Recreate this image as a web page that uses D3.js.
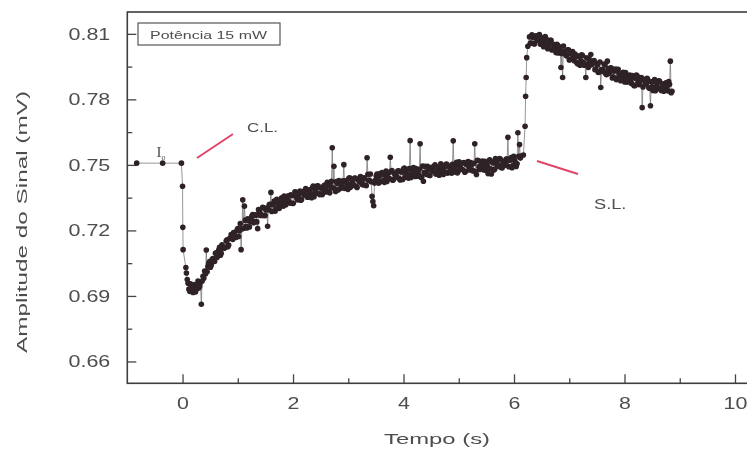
<!DOCTYPE html>
<html>
<head>
<meta charset="utf-8">
<script src="https://cdn.jsdelivr.net/npm/d3@7"></script>
<style>
  body { margin: 0; background: #fff; }
  text { font-family: "Liberation Sans", Arial, sans-serif; fill: #4d4d4d; }
</style>
</head>
<body>
<svg id="chart" width="747" height="452"></svg>
<script>
// Dark level before the light is switched on (I0)
const baseTime = [-0.83, -0.36, -0.02];
const baseAmp  = [0.7508, 0.7508, 0.7508];

// Fast drop right after the light is switched on (C.L.)
const dropTime = [0.00, 0.005, 0.01, 0.06, 0.07, 0.085];
const dropAmp  = [0.7402, 0.7214, 0.7112, 0.7030, 0.7005, 0.6975];

// Recovery under illumination, one sample every 0.015 s from 0.10 s
const recoveryStart = 0.10, recoveryStep = 0.015;
const recoveryAmp = [
  0.6958, 0.6931, 0.6921, 0.6955, 0.6947, 0.6925, 0.6916, 0.6940, 0.6952, 0.6918, 0.6929, 0.6950, 0.6968, 0.6936, 0.6944, 0.6962, 0.6862, 0.6968, 0.6990, 0.6981,
  0.7014, 0.7001, 0.7110, 0.7011, 0.7034, 0.7049, 0.7058, 0.7031, 0.7042, 0.7067, 0.7071, 0.7069, 0.7058, 0.7095, 0.7098, 0.7076, 0.7092, 0.7110, 0.7123, 0.7086,
  0.7095, 0.7134, 0.7121, 0.7118, 0.7119, 0.7123, 0.7151, 0.7157, 0.7125, 0.7133, 0.7162, 0.7166, 0.7181, 0.7166, 0.7159, 0.7190, 0.7185, 0.7168, 0.7169, 0.7201,
  0.7209, 0.7172, 0.7198, 0.7231, 0.7112, 0.7207, 0.7340, 0.7209, 0.7311, 0.7247, 0.7219, 0.7211, 0.7253, 0.7247, 0.7216, 0.7241, 0.7256, 0.7266, 0.7273, 0.7235,
  0.7241, 0.7272, 0.7269, 0.7239, 0.7208, 0.7295, 0.7287, 0.7269, 0.7273, 0.7268, 0.7306, 0.7304, 0.7268, 0.7268, 0.7294, 0.7302, 0.7219, 0.7295, 0.7318, 0.7319,
  0.7374, 0.7287, 0.7318, 0.7322, 0.7334, 0.7288, 0.7299, 0.7342, 0.7326, 0.7315, 0.7300, 0.7313, 0.7342, 0.7349, 0.7326, 0.7311, 0.7357, 0.7343, 0.7318, 0.7335,
  0.7342, 0.7358, 0.7332, 0.7325, 0.7363, 0.7359, 0.7323, 0.7324, 0.7361, 0.7377, 0.7375, 0.7349, 0.7340, 0.7345, 0.7365, 0.7380, 0.7338, 0.7341, 0.7378, 0.7374,
  0.7362, 0.7364, 0.7392, 0.7386, 0.7352, 0.7353, 0.7376, 0.7386, 0.7365, 0.7350, 0.7395, 0.7403, 0.7354, 0.7374, 0.7391, 0.7370, 0.7404, 0.7403, 0.7368, 0.7364,
  0.7393, 0.7396, 0.7364, 0.7385, 0.7404, 0.7408, 0.7389, 0.7376, 0.7420, 0.7409, 0.7379, 0.7372, 0.7402, 0.7425, 0.7578, 0.7395, 0.7494, 0.7391, 0.7378, 0.7424,
  0.7415, 0.7385, 0.7428, 0.7416, 0.7392, 0.7406, 0.7416, 0.7427, 0.7501, 0.7392, 0.7427, 0.7425, 0.7409, 0.7388, 0.7439, 0.7441, 0.7398, 0.7411, 0.7421, 0.7407,
  0.7409, 0.7440, 0.7439, 0.7401, 0.7397, 0.7432, 0.7434, 0.7422, 0.7447, 0.7443, 0.7411, 0.7409, 0.7435, 0.7441, 0.7407, 0.7405, 0.7533, 0.7457, 0.7429, 0.7428,
  0.7458, 0.7423, 0.7356, 0.7332, 0.7313, 0.7417, 0.7429, 0.7449, 0.7458, 0.7438, 0.7416, 0.7459, 0.7452, 0.7424, 0.7465, 0.7456, 0.7429, 0.7420, 0.7453, 0.7472,
  0.7424, 0.7442, 0.7463, 0.7437, 0.7535, 0.7470, 0.7474, 0.7430, 0.7433, 0.7461, 0.7456, 0.7451, 0.7444, 0.7472, 0.7473, 0.7437, 0.7431, 0.7469, 0.7468, 0.7433,
  0.7481, 0.7485, 0.7444, 0.7455, 0.7468, 0.7450, 0.7439, 0.7483, 0.7611, 0.7442, 0.7459, 0.7473, 0.7488, 0.7462, 0.7447, 0.7483, 0.7469, 0.7448, 0.7457, 0.7480,
  0.7597, 0.7443, 0.7444, 0.7495, 0.7425, 0.7465, 0.7493, 0.7460, 0.7456, 0.7493, 0.7480, 0.7453, 0.7451, 0.7483, 0.7489, 0.7472, 0.7471, 0.7493, 0.7500, 0.7458,
  0.7459, 0.7490, 0.7481, 0.7453, 0.7469, 0.7505, 0.7498, 0.7475, 0.7456, 0.7469, 0.7491, 0.7502, 0.7504, 0.7462, 0.7467, 0.7493, 0.7491, 0.7482, 0.7462, 0.7503,
  0.7610, 0.7468, 0.7483, 0.7500, 0.7512, 0.7463, 0.7471, 0.7514, 0.7492, 0.7484, 0.7480, 0.7479, 0.7509, 0.7511, 0.7466, 0.7471, 0.7502, 0.7502, 0.7515, 0.7490,
  0.7477, 0.7511, 0.7501, 0.7476, 0.7472, 0.7507, 0.7597, 0.7470, 0.7456, 0.7521, 0.7520, 0.7491, 0.7479, 0.7485, 0.7500, 0.7518, 0.7488, 0.7477, 0.7516, 0.7508,
  0.7474, 0.7497, 0.7460, 0.7518, 0.7523, 0.7482, 0.7458, 0.7514, 0.7509, 0.7477, 0.7480, 0.7529, 0.7519, 0.7498, 0.7500, 0.7493, 0.7529, 0.7526, 0.7488, 0.7486,
  0.7510, 0.7517, 0.7498, 0.7506, 0.7527, 0.7527, 0.7626, 0.7492, 0.7521, 0.7524, 0.7534, 0.7487, 0.7497, 0.7539, 0.7521, 0.7509, 0.7493, 0.7505, 0.7647, 0.7539,
  0.7593, 0.7531, 0.7541
];

// Jump when the light is switched off (S.L.)
const riseTime = [6.17, 6.20, 6.21, 6.22, 6.23, 6.25];
const riseAmp  = [0.7545, 0.7677, 0.7814, 0.7900, 0.7991, 0.8043];

// Relaxation in the dark, one sample every 0.015 s from 6.28 s
const decayStart = 6.28, decayStep = 0.015;
const decayAmp = [
  0.8086, 0.8057, 0.8058, 0.8096, 0.8084, 0.8056, 0.8054, 0.8086, 0.8091, 0.8073, 0.8071, 0.8091, 0.8097, 0.8053, 0.8053, 0.8082, 0.8071, 0.8041, 0.8055, 0.8088,
  0.8079, 0.8053, 0.8032, 0.8043, 0.8063, 0.8071, 0.8071, 0.8026, 0.8029, 0.8052, 0.8048, 0.8036, 0.8014, 0.8052, 0.8048, 0.8012, 0.8025, 0.8039, 0.7946, 0.8010,
  0.7900, 0.8044, 0.8020, 0.8009, 0.8003, 0.7999, 0.8027, 0.8027, 0.7980, 0.7982, 0.8011, 0.8008, 0.8019, 0.7992, 0.7977, 0.8008, 0.7996, 0.7969, 0.7963, 0.7997,
  0.7998, 0.7956, 0.7976, 0.8004, 0.8001, 0.7970, 0.7956, 0.7961, 0.7900, 0.7990, 0.7958, 0.7946, 0.7983, 0.7973, 0.8005, 0.7958, 0.7969, 0.7975, 0.7978, 0.7936,
  0.7937, 0.7964, 0.7957, 0.7923, 0.7924, 0.7971, 0.7854, 0.7937, 0.7937, 0.7928, 0.7962, 0.7957, 0.7917, 0.7913, 0.7975, 0.7940, 0.7919, 0.7925, 0.7944, 0.7942,
  0.7898, 0.7903, 0.7930, 0.7931, 0.7939, 0.7890, 0.7898, 0.7938, 0.7918, 0.7904, 0.7885, 0.7895, 0.7920, 0.7924, 0.7898, 0.7880, 0.7923, 0.7907, 0.7879, 0.7893,
  0.7898, 0.7911, 0.7883, 0.7873, 0.7909, 0.7902, 0.7864, 0.7862, 0.7897, 0.7911, 0.7907, 0.7878, 0.7867, 0.7870, 0.7888, 0.7900, 0.7762, 0.7857, 0.7892, 0.7885,
  0.7871, 0.7871, 0.7897, 0.7889, 0.7853, 0.7851, 0.7771, 0.7880, 0.7857, 0.7841, 0.7884, 0.7891, 0.7840, 0.7859, 0.7874, 0.7852, 0.7885, 0.7883, 0.7846, 0.7841,
  0.7868, 0.7870, 0.7837, 0.7857, 0.7874, 0.7876, 0.7854, 0.7839, 0.7881, 0.7869, 0.7975, 0.7830, 0.7837
];

const xTicks = [0, 2, 4, 6, 8, 10];
const xMinorTicks = [1, 3, 5, 7, 9];
const yTicks = [0.66, 0.69, 0.72, 0.75, 0.78, 0.81];
const yMinorTicks = [0.675, 0.705, 0.735, 0.765, 0.795];

// ---- assemble the time series ----
const points = [];
baseTime.forEach((t, i) => points.push({ t, v: baseAmp[i] }));
dropTime.forEach((t, i) => points.push({ t, v: dropAmp[i] }));
recoveryAmp.forEach((v, i) => points.push({ t: recoveryStart + i * recoveryStep, v }));
riseTime.forEach((t, i) => points.push({ t, v: riseAmp[i] }));
decayAmp.forEach((v, i) => points.push({ t: decayStart + i * decayStep, v }));

const svg = d3.select("#chart");
const x = d3.scaleLinear().domain([-1, 10.25]).range([127.3, 748.8]);
const y = d3.scaleLinear().domain([0.65, 0.82]).range([383.3, 12]);

// soft print look
svg.append("defs").append("filter").attr("id", "soft")
  .append("feGaussianBlur").attr("stdDeviation", 0.45);
const root = svg.append("g").attr("filter", "url(#soft)");

// widen a text run to a given factor of its natural width
function stretch(sel, k) {
  sel.each(function () {
    const w = this.getComputedTextLength();
    this.setAttribute("textLength", (w * k).toFixed(1));
    this.setAttribute("lengthAdjust", "spacingAndGlyphs");
  });
}

// ---- axes (ticks point into the plot) ----
const gy = root.append("g").attr("transform", `translate(${x(-1)},0)`)
  .call(d3.axisLeft(y).tickValues(yTicks).tickSize(-9).tickPadding(17)
    .tickFormat(d3.format(".2f")));
gy.select(".domain").remove();
gy.selectAll("line").attr("stroke", "#444").attr("stroke-width", 1.3);
gy.selectAll("text").attr("font-size", 16.5).attr("fill", "#555")
  .style("font-family", "'Liberation Sans', Arial, sans-serif");
stretch(gy.selectAll("text"), 1.3);

const gyMinor = root.append("g").attr("transform", `translate(${x(-1)},0)`)
  .call(d3.axisLeft(y).tickValues(yMinorTicks).tickSize(-5).tickFormat(""));
gyMinor.select(".domain").remove();
gyMinor.selectAll("line").attr("stroke", "#444").attr("stroke-width", 1.3);

const gx = root.append("g").attr("transform", `translate(0,${y(0.65)})`)
  .call(d3.axisBottom(x).tickValues(xTicks).tickSize(-9).tickPadding(14)
    .tickFormat(d3.format("d")));
gx.select(".domain").remove();
gx.selectAll("line").attr("stroke", "#444").attr("stroke-width", 1.3);
gx.selectAll("text").attr("font-size", 16.5).attr("fill", "#555")
  .style("font-family", "'Liberation Sans', Arial, sans-serif");
stretch(gx.selectAll("text"), 1.3);

const gxMinor = root.append("g").attr("transform", `translate(0,${y(0.65)})`)
  .call(d3.axisBottom(x).tickValues(xMinorTicks).tickSize(-5).tickFormat(""));
gxMinor.select(".domain").remove();
gxMinor.selectAll("line").attr("stroke", "#444").attr("stroke-width", 1.3);

// frame
root.append("rect")
  .attr("x", x(-1)).attr("y", y(0.82))
  .attr("width", x(10.25) - x(-1)).attr("height", y(0.65) - y(0.82))
  .attr("fill", "none").attr("stroke", "#3c3c3c").attr("stroke-width", 1.6);

// ---- data: thin connecting line plus dense dots ----
const line = d3.line().x(d => x(d.t)).y(d => y(d.v));
root.append("path").datum(points)
  .attr("d", line).attr("fill", "none")
  .attr("stroke", "#6a6a6a").attr("stroke-width", 0.7);

root.append("g").selectAll("circle").data(points).join("circle")
  .attr("cx", d => x(d.t)).attr("cy", d => y(d.v)).attr("r", 2.8)
  .attr("fill", "#2f2226");

// ---- annotations ----
const io = root.append("text").attr("x", x(-0.47)).attr("y", 157)
  .style("font-family", "'Liberation Serif', serif").attr("font-size", 15)
  .attr("fill", "#444");
io.append("tspan").text("I");
io.append("tspan").attr("dy", 3).attr("font-size", 8).text("o");

root.append("line").attr("x1", 197).attr("y1", 158).attr("x2", 233).attr("y2", 134)
  .attr("stroke", "#e2456a").attr("stroke-width", 2);
const cl = root.append("text").attr("x", 247).attr("y", 132)
  .attr("font-size", 13).text("C.L.");
stretch(cl, 1.3);

root.append("line").attr("x1", 537).attr("y1", 161).attr("x2", 578).attr("y2", 174)
  .attr("stroke", "#e2456a").attr("stroke-width", 2);
const sl = root.append("text").attr("x", 594).attr("y", 209)
  .attr("font-size", 14).text("S.L.");
stretch(sl, 1.3);

// legend box
root.append("rect").attr("x", 138).attr("y", 23).attr("width", 142).attr("height", 22)
  .attr("fill", "#fff").attr("stroke", "#555").attr("stroke-width", 1.2);
root.append("text").attr("x", 150).attr("y", 38.5)
  .attr("font-size", 10).attr("textLength", 117).attr("lengthAdjust", "spacingAndGlyphs")
  .text("Potência 15 mW");

// axis titles
root.append("text").attr("x", 437).attr("y", 444).attr("text-anchor", "middle")
  .attr("font-size", 15).attr("textLength", 106).attr("lengthAdjust", "spacingAndGlyphs")
  .text("Tempo (s)");
root.append("text")
  .attr("transform", "translate(27,222) rotate(-90)")
  .attr("text-anchor", "middle").attr("font-size", 15)
  .attr("textLength", 262).attr("lengthAdjust", "spacingAndGlyphs")
  .text("Amplitude do Sinal (mV)");
</script>
</body>
</html>
